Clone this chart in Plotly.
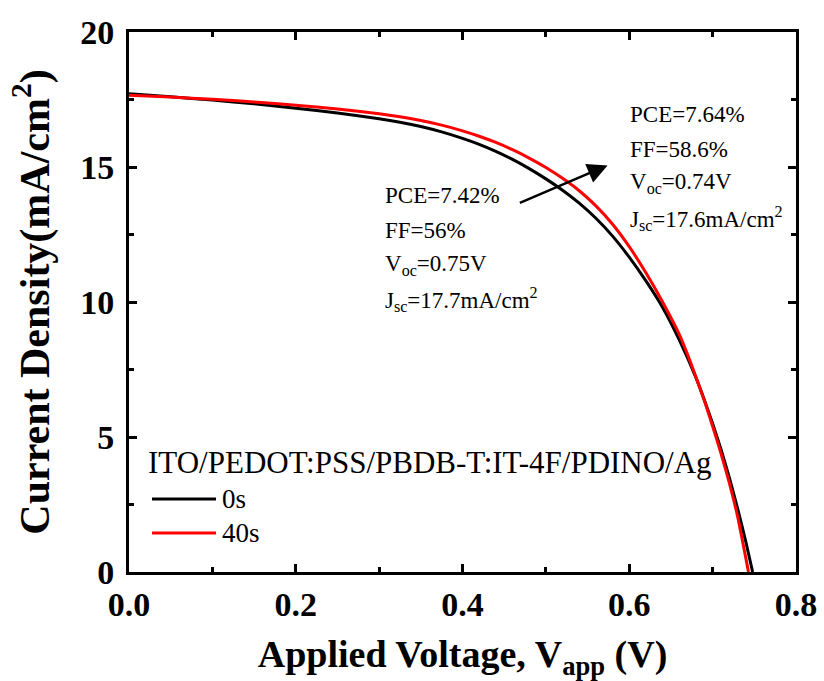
import plotly.graph_objects as go

# J-V curves (voltage in V, current density in mA/cm^2)
v_0s = [0.00, 0.05, 0.10, 0.15, 0.20, 0.25, 0.30, 0.325, 0.35, 0.375, 0.40, 0.42,
        0.44, 0.46, 0.48, 0.50, 0.52, 0.54, 0.56, 0.58, 0.60, 0.62, 0.64, 0.66,
        0.68, 0.69, 0.70, 0.71, 0.72, 0.73, 0.74, 0.748]
j_0s = [17.71, 17.60, 17.48, 17.34, 17.18, 17.00, 16.79, 16.66, 16.50, 16.30, 16.06, 15.84,
        15.58, 15.28, 14.94, 14.56, 14.14, 13.66, 13.10, 12.44, 11.66, 10.78, 9.80, 8.60,
        7.20, 6.38, 5.50, 4.55, 3.50, 2.35, 1.10, 0.00]

v_40s = [0.00, 0.05, 0.10, 0.15, 0.20, 0.25, 0.30, 0.325, 0.35, 0.375, 0.40, 0.42,
         0.44, 0.46, 0.48, 0.50, 0.52, 0.54, 0.56, 0.58, 0.60, 0.62, 0.64, 0.66,
         0.67, 0.68, 0.69, 0.70, 0.71, 0.72, 0.73, 0.743]
j_40s = [17.66, 17.59, 17.51, 17.41, 17.29, 17.15, 16.97, 16.86, 16.72, 16.55, 16.34, 16.14,
         15.91, 15.64, 15.33, 14.98, 14.58, 14.12, 13.56, 12.88, 12.05, 11.08, 10.00, 8.80,
         8.05, 7.22, 6.35, 5.40, 4.40, 3.30, 2.05, 0.00]

labels = ["0s", "40s"]
colors = ["#000000", "#ff0000"]
device = "ITO/PEDOT:PSS/PBDB-T:IT-4F/PDINO/Ag"

params_0s = ["PCE=7.42%", "FF=56%", "V<sub>oc</sub>=0.75V", "J<sub>sc</sub>=17.7mA/cm<sup>2</sup>"]
params_40s = ["PCE=7.64%", "FF=58.6%", "V<sub>oc</sub>=0.74V", "J<sub>sc</sub>=17.6mA/cm<sup>2</sup>"]

FONT = "Liberation Serif, Times New Roman, Tinos, DejaVu Serif, serif"

fig = go.Figure()
for v, j, name, c in [(v_0s, j_0s, labels[0], colors[0]), (v_40s, j_40s, labels[1], colors[1])]:
    fig.add_trace(go.Scatter(x=v, y=j, mode="lines", name=name,
                             line=dict(color=c, width=3, shape="spline", smoothing=0.5),
                             showlegend=False))

axis_common = dict(
    showline=True, linewidth=3, linecolor="black", mirror="ticks",
    ticks="inside", ticklen=8, tickwidth=3, tickcolor="black",
    showgrid=False, zeroline=False, automargin=False,
    tickfont=dict(family=FONT, size=34, color="black", weight="bold"),
)

fig.update_xaxes(range=[0, 0.8], dtick=0.2, tickformat=".1f",
                 minor=dict(ticks="inside", ticklen=5, tickwidth=3, dtick=0.1, tickcolor="black"),
                 title=dict(text="<b>Applied Voltage, V<sub>app</sub> (V)</b>",
                            font=dict(family=FONT, size=38, color="black"), standoff=30),
                 ticklabelstandoff=0,
                 **axis_common)
fig.update_yaxes(range=[0, 20], dtick=5,
                 minor=dict(ticks="inside", ticklen=5, tickwidth=3, dtick=2.5, tickcolor="black"),
                 title=dict(text="<b>Current Density(mA/cm<sup>2</sup>)</b>",
                            font=dict(family=FONT, size=42, color="black"), standoff=18),
                 ticklabelstandoff=5,
                 **axis_common)

# parameter text blocks
def add_block(lines, x0, y_lines):
    for t, y in zip(lines, y_lines):
        fig.add_annotation(x=x0, y=y, xref="x", yref="y", text=t, showarrow=False,
                           xanchor="left", yanchor="middle",
                           font=dict(family=FONT, size=23, color="black"))

add_block(params_0s, 0.305, [13.95, 12.65, 11.36, 10.10])
add_block(params_40s, 0.599, [16.95, 15.66, 14.40, 13.10])

# arrow pointing from the 0s to the 40s parameters
fig.add_annotation(x=0.574, y=15.06, ax=0.467, ay=13.65, xref="x", yref="y",
                   axref="x", ayref="y", text="", showarrow=True,
                   arrowhead=2, arrowsize=1.6, arrowwidth=2.5, arrowcolor="black")

# legend drawn in paper coordinates
def px_x(p):
    return (p - 129) / 667

def px_y(p):
    return (572 - p) / 540

fig.add_annotation(x=px_x(146), y=px_y(462), xref="paper", yref="paper", text=device,
                   showarrow=False, xanchor="left", yanchor="middle",
                   font=dict(family=FONT, size=31, color="black"))
for name, c, yy in [(labels[0], colors[0], 499), (labels[1], colors[1], 533)]:
    fig.add_shape(type="line", xref="paper", yref="paper",
                  x0=px_x(152), x1=px_x(216), y0=px_y(yy), y1=px_y(yy),
                  line=dict(color=c, width=3))
    fig.add_annotation(x=px_x(220), y=px_y(yy), xref="paper", yref="paper", text=name,
                       showarrow=False, xanchor="left", yanchor="middle",
                       font=dict(family=FONT, size=27, color="black"))

fig.update_layout(
    width=824, height=681,
    margin=dict(l=129, r=28, t=32, b=109),
    paper_bgcolor="white", plot_bgcolor="white",
    font=dict(family=FONT, color="black"),
)

fig.write_html("out.html")
